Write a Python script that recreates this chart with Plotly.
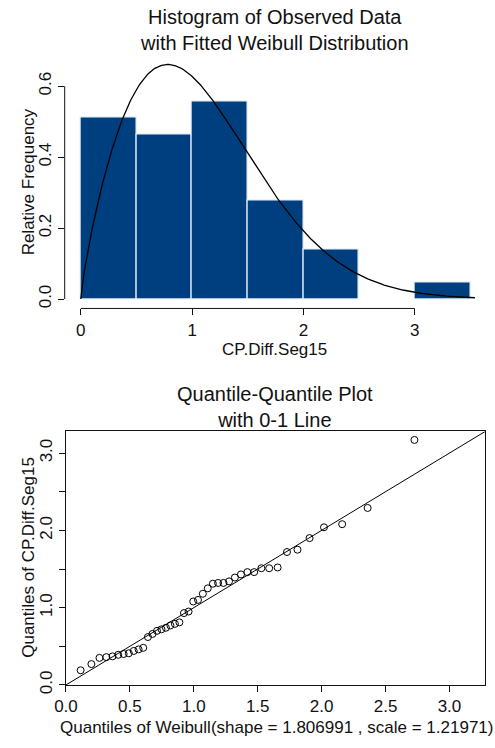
import numpy as np
import plotly.graph_objects as go

# Observed CP.Diff.Seg15 values (sorted)
cp_diff_seg15 = [
    0.19, 0.27, 0.35, 0.36, 0.37, 0.39, 0.40, 0.41, 0.44, 0.46, 0.48,
    0.62, 0.66, 0.70, 0.72, 0.74, 0.77, 0.79, 0.81, 0.93, 0.95,
    1.08, 1.10, 1.18, 1.25, 1.31, 1.32, 1.32, 1.34, 1.39, 1.43, 1.46, 1.46,
    1.51, 1.51, 1.52, 1.72, 1.75, 1.90,
    2.04, 2.08, 2.29,
    3.17,
]

# Fitted Weibull parameters
weib_shape = 1.806991
weib_scale = 1.21971

hist_xticks = [0, 1, 2, 3]
hist_yticks = [0.0, 0.2, 0.4, 0.6]
qq_xticks = [0.0, 0.5, 1.0, 1.5, 2.0, 2.5, 3.0]
qq_yticks = [0.0, 0.5, 1.0, 1.5, 2.0, 2.5, 3.0]

W, H = 495, 748
FONT = "Liberation Sans, Arial, Helvetica, sans-serif"
BAR = "#003f7f"
INK = "#111111"


def weib_pdf(x, k, lam):
    z = x / lam
    return (k / lam) * z ** (k - 1) * np.exp(-z ** k)


def weib_q(p, k, lam):
    return lam * (-np.log(1 - p)) ** (1 / k)


def xdom(px0, px1):
    return [px0 / W, px1 / W]


def ydom(py_top, py_bot):
    return [1 - py_bot / H, 1 - py_top / H]


data = np.array(cp_diff_seg15)
n = len(data)
pp = (np.arange(1, n + 1) - 0.4) / (n + 0.2)
theo_q = weib_q(pp, weib_shape, weib_scale)

curve_x = np.linspace(0, 3.54, 400)
curve_y = weib_pdf(curve_x, weib_shape, weib_scale)

fig = go.Figure()

fig.add_trace(go.Histogram(
    x=cp_diff_seg15, histnorm="probability density",
    xbins=dict(start=0, end=3.5, size=0.5),
    marker=dict(color=BAR, line=dict(color="#e8f0f8", width=1.2)),
    xaxis="x", yaxis="y", showlegend=False,
))
fig.add_trace(go.Scatter(
    x=curve_x, y=curve_y, mode="lines",
    line=dict(color="black", width=1.3),
    xaxis="x", yaxis="y", showlegend=False,
))

qq_range = [0, 3.28]
fig.add_trace(go.Scatter(
    x=qq_range, y=qq_range, mode="lines",
    line=dict(color="black", width=1),
    xaxis="x2", yaxis="y2", showlegend=False,
))
fig.add_trace(go.Scatter(
    x=theo_q, y=data, mode="markers",
    marker=dict(symbol="circle-open", size=7, color="black", line=dict(width=1)),
    xaxis="x2", yaxis="y2", showlegend=False,
))

tick_font = dict(family=FONT, size=17, color=INK)
common = dict(showgrid=False, zeroline=False, ticks="outside", ticklen=6,
              tickwidth=1, tickcolor=INK, tickfont=tick_font)

fig.update_layout(
    width=W, height=H,
    margin=dict(l=0, r=0, t=0, b=0),
    paper_bgcolor="white", plot_bgcolor="white",
    bargap=0,
    xaxis=dict(domain=xdom(54, 485.5), range=[-0.1446, 3.637],
               tickvals=hist_xticks, ticktext=[str(v) for v in hist_xticks],
               showline=False, anchor="y", **common),
    yaxis=dict(domain=ydom(56.2, 312.2), range=[-0.0265, 0.6865],
               tickvals=hist_yticks, ticktext=[f"{v:.1f}" for v in hist_yticks],
               tickangle=-90, showline=False, anchor="x", **common),
    xaxis2=dict(domain=xdom(55.3, 485), range=qq_range,
                tickvals=qq_xticks, ticktext=[f"{v:.1f}" for v in qq_xticks],
                showline=True, mirror=True, linecolor=INK, linewidth=1,
                anchor="y2", **common),
    yaxis2=dict(domain=ydom(436.7, 693.3), range=qq_range,
                tickvals=qq_yticks,
                ticktext=[f"{v:.1f}" if v == int(v) else "" for v in qq_yticks],
                tickangle=-90, showline=True, mirror=True, linecolor=INK,
                linewidth=1, anchor="x2", **common),
)

# R-style detached axis lines for the histogram panel
fig.add_shape(type="line", xref="x", yref="y domain", x0=hist_xticks[0],
              x1=hist_xticks[-1], y0=0, y1=0, line=dict(color=INK, width=1))
fig.add_shape(type="line", xref="x domain", yref="y", x0=0, x1=0,
              y0=hist_yticks[0], y1=hist_yticks[-1], line=dict(color=INK, width=1))


def label(text, x, y, size=17, angle=0):
    fig.add_annotation(text=text, x=x / W, y=1 - y / H, xref="paper", yref="paper",
                       xanchor="center", yanchor="middle", showarrow=False,
                       textangle=angle, font=dict(family=FONT, size=size, color=INK))


label("Histogram of Observed Data<br>with Fitted Weibull Distribution", 269.5, 30, size=20)
label("CP.Diff.Seg15", 269.5, 354)
label("Relative Frequency", 17, 184, angle=-90)

label("Quantile-Quantile Plot<br>with 0-1 Line", 270, 412, size=20)
label("Quantiles of Weibull(shape = 1.806991 , scale = 1.21971)", 271, 736)
label("Quantiles of CP.Diff.Seg15", 17, 564, angle=-90)

fig.write_html("out.html")
